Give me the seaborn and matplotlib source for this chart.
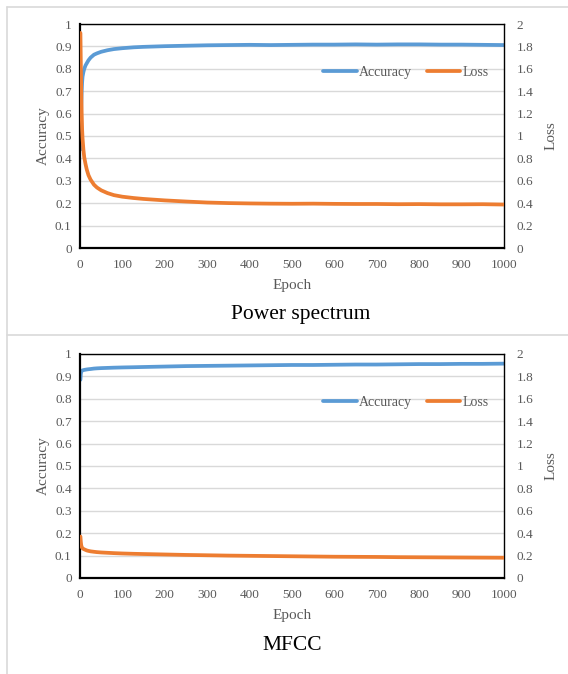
import numpy as np
import pandas as pd
import matplotlib
matplotlib.use("Agg")
import matplotlib.pyplot as plt
import seaborn as sns
from matplotlib.lines import Line2D
from matplotlib.ticker import FuncFormatter, MultipleLocator

# ==========================================
# Data
# ==========================================

epochs = [1, 2, 3, 4, 5, 6, 8, 10, 13, 16, 20, 25, 33, 40, 50, 65, 80, 100, 127, 150,
          200, 250, 300, 350, 400, 450, 500, 550, 600, 650, 700, 750, 800, 850, 900, 950, 1000]

# Power spectrum
ps_acc = [0.44, 0.55, 0.64, 0.70, 0.74, 0.765, 0.785, 0.80, 0.815, 0.825, 0.838, 0.85, 0.863,
          0.869, 0.876, 0.883, 0.888, 0.892, 0.896, 0.898, 0.901, 0.903, 0.905, 0.906, 0.907,
          0.906, 0.907, 0.908, 0.908, 0.909, 0.908, 0.909, 0.909, 0.908, 0.908, 0.907, 0.906]
ps_loss = [1.92, 1.62, 1.38, 1.20, 1.06, 0.98, 0.88, 0.81, 0.75, 0.70, 0.65, 0.61, 0.565,
           0.54, 0.515, 0.49, 0.472, 0.458, 0.446, 0.438, 0.425, 0.415, 0.406, 0.401, 0.398,
           0.396, 0.395, 0.396, 0.394, 0.393, 0.393, 0.391, 0.392, 0.390, 0.390, 0.391, 0.388]

# MFCC
mf_acc = [0.885, 0.912, 0.92, 0.924, 0.926, 0.927, 0.928, 0.929, 0.930, 0.931, 0.932, 0.933,
          0.935, 0.936, 0.937, 0.938, 0.939, 0.940, 0.941, 0.942, 0.944, 0.946, 0.947, 0.948,
          0.949, 0.950, 0.951, 0.951, 0.952, 0.953, 0.953, 0.954, 0.955, 0.955, 0.956, 0.956, 0.957]
mf_loss = [0.37, 0.32, 0.29, 0.278, 0.27, 0.265, 0.26, 0.256, 0.251, 0.246, 0.242, 0.238,
           0.234, 0.231, 0.228, 0.225, 0.222, 0.219, 0.216, 0.214, 0.21, 0.206, 0.203, 0.2,
           0.198, 0.196, 0.194, 0.192, 0.19, 0.189, 0.188, 0.186, 0.185, 0.184, 0.183, 0.182, 0.181]

captions = ["Power spectrum", "MFCC"]
caption_x = [301, 292]
caption_y = [315, 645]

BLUE = "#5B9BD5"
ORANGE = "#ED7D31"
GRAY = "#595959"

sns.set_style("white")
plt.rcParams["font.family"] = ["Liberation Serif", "DejaVu Serif"]

fig = plt.figure(figsize=(5.68, 6.74), dpi=100)
W, H = 568, 674

# table borders
for (x0, y0, x1, y1) in [(7, 7, 568, 7), (7, 7, 7, 674), (7, 335, 568, 335)]:
    fig.add_artist(Line2D([x0 / W, x1 / W], [1 - y0 / H, 1 - y1 / H],
                          color="#D9D9D9", lw=1.2))

panels = [(ps_acc, ps_loss, 24, 248), (mf_acc, mf_loss, 354, 578)]
fmt = FuncFormatter(lambda v, p: f"{v:g}")

for i, (acc, loss, top, bot) in enumerate(panels):
    df = pd.DataFrame({"Epoch": epochs, "Accuracy": acc, "Loss": loss})
    ax = fig.add_axes([80 / W, 1 - bot / H, 424 / W, (bot - top) / H])
    ax2 = ax.twinx()

    sns.lineplot(data=df, x="Epoch", y="Accuracy", ax=ax, color=BLUE, lw=2.7, legend=False)
    sns.lineplot(data=df, x="Epoch", y="Loss", ax=ax2, color=ORANGE, lw=2.7, legend=False)

    ax.set_xlim(0, 1000)
    ax.set_ylim(0, 1)
    ax2.set_ylim(0, 2)
    ax.xaxis.set_major_locator(MultipleLocator(100))
    ax.yaxis.set_major_locator(MultipleLocator(0.1))
    ax2.yaxis.set_major_locator(MultipleLocator(0.2))
    ax.yaxis.set_major_formatter(fmt)
    ax2.yaxis.set_major_formatter(fmt)

    ax.grid(axis="y", color="#D9D9D9", lw=1)
    ax.set_axisbelow(True)

    for s in ax.spines.values():
        s.set_color("black")
        s.set_linewidth(1)
    ax.spines["left"].set_linewidth(1.6)
    ax.spines["bottom"].set_linewidth(1.6)
    for s in ax2.spines.values():
        s.set_visible(False)

    ax.tick_params(axis="both", length=0, labelsize=9.5, colors=GRAY)
    ax.tick_params(axis="y", pad=6)
    ax.tick_params(axis="x", pad=8)
    ax2.tick_params(axis="y", length=0, labelsize=9.5, colors=GRAY, pad=9)

    ax.set_xlabel("Epoch", fontsize=11, color=GRAY, labelpad=6)
    ax.set_ylabel("Accuracy", fontsize=11, color=GRAY, labelpad=4)
    ax2.set_ylabel("Loss", fontsize=11, color=GRAY, labelpad=8)

    handles = [Line2D([], [], color=BLUE, lw=2.7), Line2D([], [], color=ORANGE, lw=2.7)]
    leg = ax.legend(handles, ["Accuracy", "Loss"], ncol=2, frameon=False,
                    loc="center right", bbox_to_anchor=(0.977, 0.785),
                    fontsize=10, handlelength=2.4, handletextpad=0.15,
                    columnspacing=1.1, borderaxespad=0)
    for t in leg.get_texts():
        t.set_color(GRAY)
    leg.set_zorder(10)

    fig.text(caption_x[i] / W, 1 - caption_y[i] / H, captions[i],
             fontsize=15.5, ha="center", va="center", color="black")

fig.savefig("out.png", dpi=100)
